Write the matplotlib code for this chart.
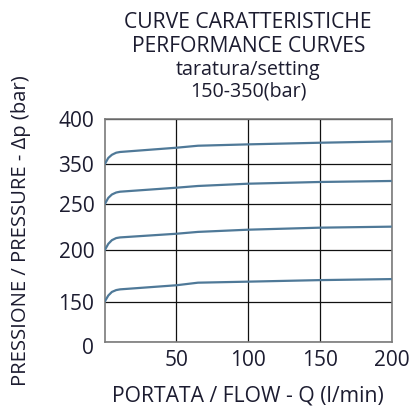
import numpy as np
import matplotlib
matplotlib.use("Agg")
import matplotlib.pyplot as plt
from matplotlib.ticker import FixedLocator

# --- data ---
flow = [0, 2.5, 5, 8, 10.7, 50, 65, 100, 150, 200]
p150 = [150, 156, 159.5, 161.3, 162, 166, 168.5, 169.5, 171, 172]
p200 = [200, 207, 211, 213.3, 214, 218, 220, 222.4, 224.6, 225.7]
p250 = [250, 266, 274.5, 279.5, 281.5, 291.5, 295.8, 301.5, 305.8, 308.3]
p350 = [350, 357, 360.5, 362.8, 363.6, 368.3, 370.5, 372, 373.8, 375.3]

y_ticks = [0, 150, 200, 250, 350, 400]
x_ticks = [50, 100, 150, 200]

# the chart's pressure axis is not linear: each gridline sits at its own height
y_pos = [0, 40, 91.4, 137.4, 177.4, 222.7]

def fwd(v):
    return np.interp(v, y_ticks, y_pos)

def inv(v):
    return np.interp(v, y_pos, y_ticks)

plt.rcParams['font.family'] = ['Open Sans', 'DejaVu Sans']
txt = '#1c1c30'
line_col = '#4f7998'

fig = plt.figure(figsize=(4.11, 4.08), dpi=100)
ax = fig.add_axes([104.7 / 411, (408 - 341.7) / 408, 287 / 411, 222.7 / 408])
ax.set_yscale('function', functions=(fwd, inv))

for p in [p150, p200, p250, p350]:
    ax.plot(flow, p, color=line_col, linewidth=1.6, solid_capstyle='butt', zorder=3)

ax.set_xlim(0, 200)
ax.set_ylim(0, 400)
ax.yaxis.set_major_locator(FixedLocator(y_ticks))
ax.xaxis.set_major_locator(FixedLocator(x_ticks))
ax.yaxis.set_minor_locator(FixedLocator([]))
# the "0" label sits a little below its gridline, drawn separately
ax.set_yticklabels([''] + [str(v) for v in y_ticks[1:]])
ax.set_xticklabels([str(v) for v in x_ticks])
ax.annotate(str(y_ticks[0]), xy=(0, y_ticks[0]), xycoords=('axes fraction', 'data'),
            xytext=(-10.5, -7), textcoords='offset pixels', ha='right', va='center',
            fontsize=15, color=txt)
ax.grid(True, color='#111111', linewidth=0.9)
ax.tick_params(length=0, labelsize=15, labelcolor=txt, pad=7.5)
ax.tick_params(axis='x', pad=6)
for s in ax.spines.values():
    s.set_color('#7a7a7a')
    s.set_linewidth(1.2)

ax.set_ylabel('PRESSIONE / PRESSURE - Δp (bar)', fontsize=14.6, color=txt, labelpad=20)
ax.set_xlabel('PORTATA / FLOW - Q (l/min)', fontsize=15.2, color=txt, labelpad=10.5)

fig.text(0.604, 1 - 22 / 408, 'CURVE CARATTERISTICHE', ha='center', va='center', fontsize=15.2, color=txt)
fig.text(0.604, 1 - 46 / 408, 'PERFORMANCE CURVES', ha='center', va='center', fontsize=15.2, color=txt)
fig.text(0.604, 1 - 70 / 408, 'taratura/setting', ha='center', va='center', fontsize=14.2, color=txt)
fig.text(0.604, 1 - 91 / 408, '150-350(bar)', ha='center', va='center', fontsize=14.2, color=txt)

fig.savefig('out.png', dpi=100)
